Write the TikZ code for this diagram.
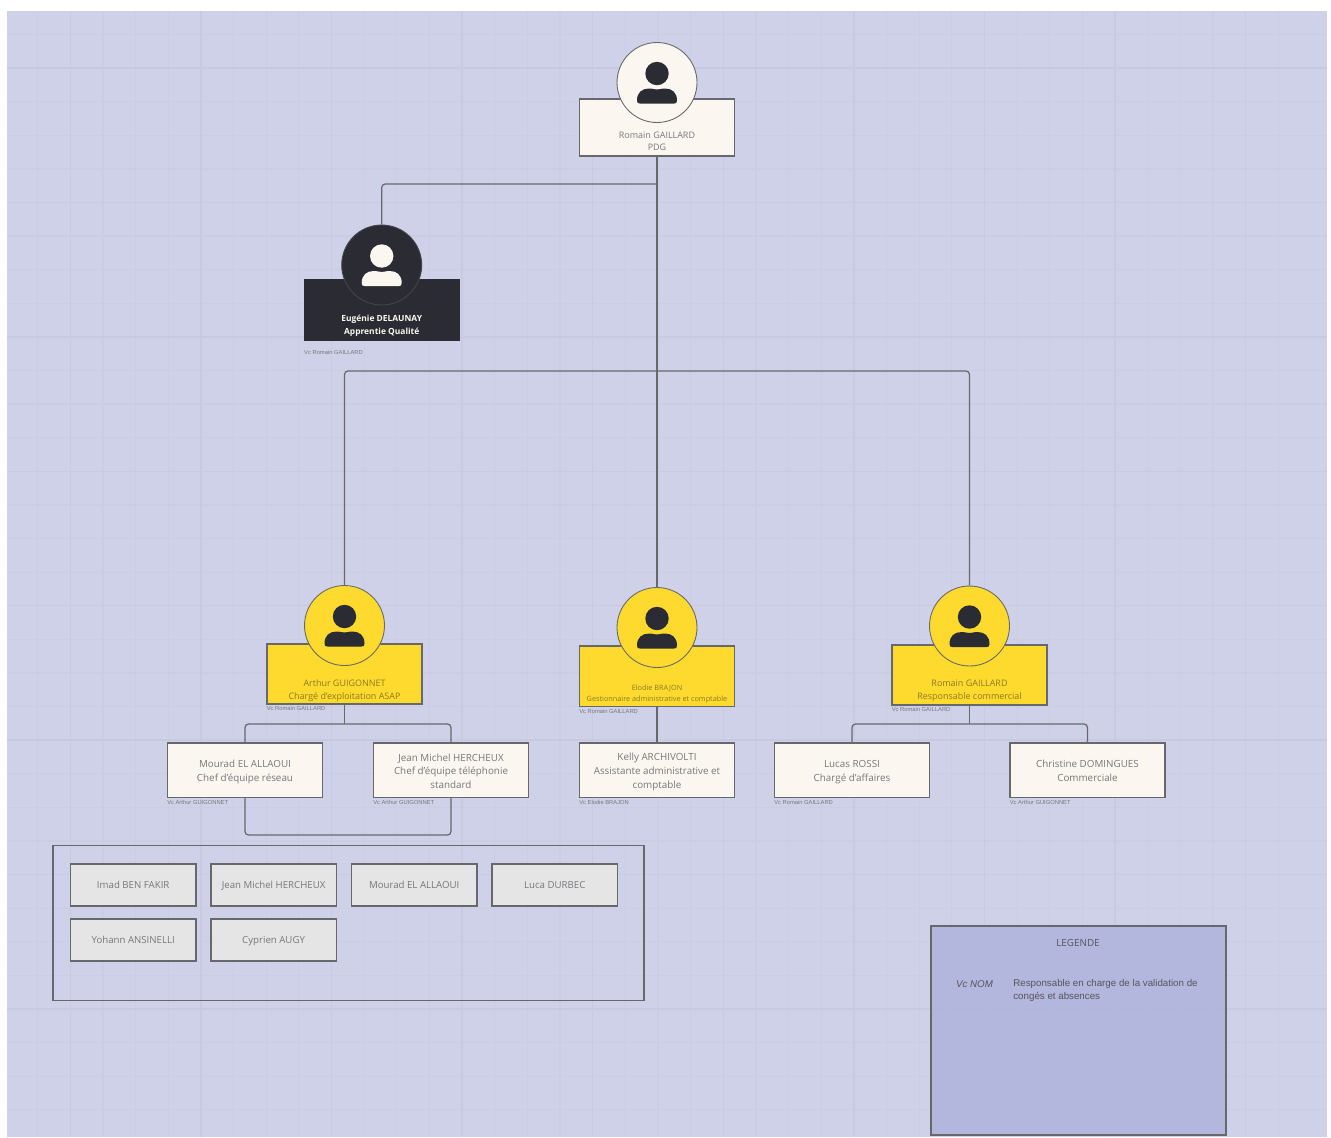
\documentclass[tikz,border=0pt]{standalone}
\usepackage{fontspec}
\setmainfont{Open Sans}
\newfontfamily\legendfont{Liberation Sans}
\usetikzlibrary{positioning}
\definecolor{pagebg}{HTML}{CED1E7}
\definecolor{gridminor}{HTML}{CACDE3}
\definecolor{gridmajor}{HTML}{C7CAE0}
\definecolor{creamfill}{HTML}{FBF7F0}
\definecolor{yellowfill}{HTML}{FEDA2E}
\definecolor{darkfill}{HTML}{2B2C33}
\definecolor{grayfill}{HTML}{E5E5E5}
\definecolor{legendfill}{HTML}{B1B4DC}
\definecolor{linegray}{HTML}{68686C}
\definecolor{mutedtext}{HTML}{77777A}
\definecolor{yellowtext}{HTML}{8A7A24}
\tikzset{
    card/.style={draw=linegray, line width=.7pt, inner sep=0pt, minimum width=3.1cm, minimum height=1.09cm},
    cream/.style={card, fill=creamfill},
    staff/.style={draw=linegray, line width=.8pt, fill=grayfill, inner sep=0pt, minimum width=2.51cm, minimum height=.834cm, text height=5.2pt, text depth=1.2pt, text=mutedtext, font=\fontsize{5.5}{7}\selectfont},
    photo/.style={circle, draw=linegray, line width=.5pt, inner sep=0pt, minimum size=1.6cm},
    title/.style={align=center, text=mutedtext, inner sep=0pt, font=\fontsize{5.6}{7.8}\selectfont},
    small/.style={align=center, inner sep=0pt, font=\fontsize{5.1}{7.3}\selectfont},
    vc/.style={inner sep=0pt, text=mutedtext, font=\legendfont\fontsize{3.3}{4}\selectfont},
    link/.style={draw=linegray, line width=.7pt, rounded corners=2pt},
    pics/avatar/.style={code={
        \fill[#1] (0,-9) circle[radius=11.7];
        \fill[#1] (-20,18) .. controls (-20,10) and (-15,6) .. (-8,6) .. controls (-4,6) and (-3,7) .. (0,7)
            .. controls (3,7) and (4,6) .. (8,6) .. controls (15,6) and (20,10) .. (20,18)
            .. controls (20,20.5) and (19,21) .. (17,21) -- (-17,21) .. controls (-19,21) and (-20,20.5) .. (-20,18) -- cycle;
    }},
}
\begin{document}
\begin{tikzpicture}[x=.02cm,y=-.02cm]
    \useasboundingbox (0,0) rectangle (1331,1137);
    \fill[pagebg] (7,11) rectangle (1327,1137);

    % grid
    \foreach \i in {1,...,39} \draw[gridminor, line width=.7pt] ({5+32.65*\i},11) -- ({5+32.65*\i},1137);
    \foreach \i in {0,...,32} \draw[gridminor, line width=.7pt] (7,{34.5+33.6*\i}) -- (1327,{34.5+33.6*\i});
    \foreach \i in {0,...,9} \draw[gridmajor, line width=.8pt] ({70.3+130.6*\i},11) -- ({70.3+130.6*\i},1137);
    \foreach \i in {0,...,7} \draw[gridmajor, line width=.8pt] (7,{68.1+134.4*\i}) -- (1327,{68.1+134.4*\i});

    % top of the tree
    \node[cream, minimum height=1.14cm] (ceo) at (657,127.5) {};
    \node[photo, fill=creamfill] (ceophoto) at (657,82.5) {};
    \pic at (657,82.5) {avatar=darkfill};
    \node[small, text=mutedtext] (ceotext) at (657,141.3) {Romain GAILLARD\\PDG};

    \node[card, draw=darkfill, fill=darkfill, minimum width=3.09cm, minimum height=1.21cm] (eugenie) at (381.7,309.7) {};
    \node[photo, draw=darkfill!88!white, fill=darkfill] (eugeniephoto) at (381.7,265) {};
    \pic at (381.7,265) {avatar=creamfill};
    \node[small, text=creamfill, font=\bfseries\fontsize{4.8}{7.3}\selectfont] (eugenietext) at (381.7,326) {Eugénie DELAUNAY\\Apprentie Qualité};
    \node[vc, below right=7pt and 0pt of eugenie.south west, anchor=west] (vceugenie) {Vc Romain GAILLARD};

    % managers
    \node[card, fill=yellowfill, minimum height=1.2cm] (arthur) at (344.5,674) {};
    \node[photo, fill=yellowfill] (arthurphoto) at (344.5,625.5) {};
    \pic at (344.5,625.5) {avatar=darkfill};
    \node[small, text=yellowtext] (arthurtext) at (344.5,690.6) {Arthur GUIGONNET\\Chargé d'exploitation ASAP};
    \node[vc, below right=2.3pt and 0pt of arthur.south west, anchor=west] (vcarthur) {Vc Romain GAILLARD};

    \node[card, fill=yellowfill, minimum height=1.21cm] (elodie) at (657,676.3) {};
    \node[photo, fill=yellowfill] (elodiephoto) at (657,627.5) {};
    \pic at (657,627.5) {avatar=darkfill};
    \node[small, text=yellowtext, font=\fontsize{4.15}{6.2}\selectfont] (elodietext) at (657,693.7) {Elodie BRAJON\\Gestionnaire administrative et comptable};
    \node[vc, below right=2.3pt and 0pt of elodie.south west, anchor=west] (vcelodie) {Vc Romain GAILLARD};

    \node[card, fill=yellowfill, minimum height=1.2cm] (romain) at (969.5,675) {};
    \node[photo, fill=yellowfill] (romainphoto) at (969.5,626) {};
    \pic at (969.5,626) {avatar=darkfill};
    \node[small, text=yellowtext] (romaintext) at (969.5,691) {Romain GAILLARD\\Responsable commercial};
    \node[vc, below right=2.3pt and 0pt of romain.south west, anchor=west] (vcromain) {Vc Romain GAILLARD};

    % employees
    \node[cream] (mourad) at (245,770.3) {};
    \node[title] (mouradtext) at (245,772) {Mourad EL ALLAOUI\\Chef d'équipe réseau};
    \node[vc, below right=2.3pt and 0pt of mourad.south west, anchor=west] (vcmourad) {Vc Arthur GUIGONNET};
    \node[cream] (jean) at (451,770.3) {};
    \node[title] (jeantext) at (451,771) {Jean Michel HERCHEUX\\Chef d'équipe téléphonie\\standard};
    \node[vc, below right=2.3pt and 0pt of jean.south west, anchor=west] (vcjean) {Vc Arthur GUIGONNET};
    \node[cream] (kelly) at (657,770.3) {};
    \node[title] (kellytext) at (657,772) {Kelly ARCHIVOLTI\\Assistante administrative et\\comptable};
    \node[vc, below right=2.3pt and 0pt of kelly.south west, anchor=west] (vckelly) {Vc Elodie BRAJON};
    \node[cream] (lucas) at (852,770.3) {};
    \node[title] (lucastext) at (852,772) {Lucas ROSSI\\Chargé d'affaires};
    \node[vc, below right=2.3pt and 0pt of lucas.south west, anchor=west] (vclucas) {Vc Romain GAILLARD};
    \node[cream] (christine) at (1087.5,770.3) {};
    \node[title] (christinetext) at (1087.5,771) {Christine DOMINGUES\\Commerciale};
    \node[vc, below right=2.3pt and 0pt of christine.south west, anchor=west] (vcchristine) {Vc Arthur GUIGONNET};

    % connectors
    \coordinate (topbus) at (657,184);
    \coordinate (midbus) at (657,371);
    \coordinate (arthurbus) at (344.5,724);
    \coordinate (romainbus) at (969.5,724);
    \coordinate (teambus) at (348,835);
    \draw[link] (ceo.south) -- (elodiephoto.north);
    \draw[link] (topbus) -| (eugeniephoto.north);
    \draw[link] (midbus) -| (arthurphoto.north);
    \draw[link] (midbus) -| (romainphoto.north);
    \draw[link] (arthur.south) -- (arthurbus);
    \draw[link] (arthurbus) -| (mourad.north);
    \draw[link] (arthurbus) -| (jean.north);
    \draw[link] (elodie.south) -- (kelly.north);
    \draw[link] (romain.south) -- (romainbus);
    \draw[link] (romainbus) -| (lucas.north);
    \draw[link] (romainbus) -| (christine.north);
    \draw[link] (mourad.south) |- (teambus) -| (jean.south);

    % team box
    \node[draw=linegray, line width=.7pt, inner sep=0pt, minimum width=11.82cm, minimum height=3.1cm] (team) at (348.5,923) {};
    \node[staff] (imad) at (133.2,885) {Imad BEN FAKIR};
    \node[staff] (jeanm) at (273.6,885) {Jean Michel HERCHEUX};
    \node[staff] (mouradb) at (414.2,885) {Mourad EL ALLAOUI};
    \node[staff] (luca) at (554.8,885) {Luca DURBEC};
    \node[staff] (yohann) at (133.2,940) {Yohann ANSINELLI};
    \node[staff] (cyprien) at (273.6,940) {Cyprien AUGY};

    % legend
    \node[draw=linegray, line width=.8pt, fill=legendfill, fill opacity=.9, inner sep=0pt, minimum width=5.9cm, minimum height=4.18cm] (legend) at (1078.5,1030.5) {};
    \node[inner sep=0pt, text=darkfill!80, font=\fontsize{5.6}{7}\selectfont] (legendtitle) at (1078,943) {LEGENDE};
    \node[inner sep=0pt, text=darkfill!80, font=\legendfont\itshape\fontsize{5.55}{7}\selectfont] (vcnom) at (974.5,984) {Vc NOM};
    \node[inner sep=0pt, anchor=north west, align=left, text=darkfill!80, font=\legendfont\fontsize{5.55}{7.1}\selectfont] (legendtext) at (1013,979.5) {Responsable en charge de la validation de\\congés et absences};
\end{tikzpicture}
\end{document}
